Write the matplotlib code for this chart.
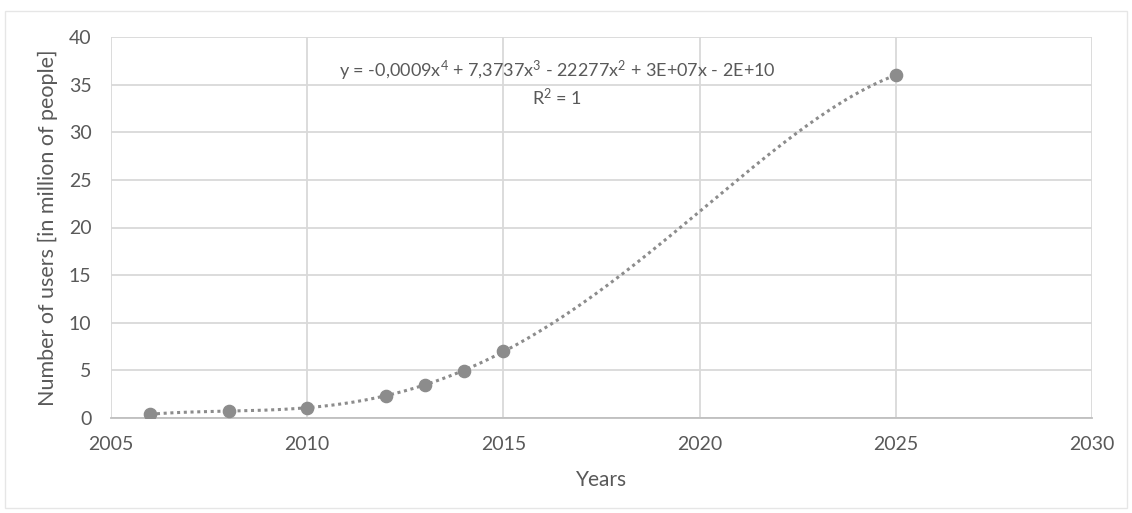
import numpy as np
import matplotlib
matplotlib.use("Agg")
import matplotlib.pyplot as plt
from matplotlib.patches import Rectangle

years = [2006, 2008, 2010, 2012, 2013, 2014, 2015, 2025]
users = [0.4, 0.7, 1.1, 2.35, 3.5, 4.95, 7.0, 36.0]
x_ticks = [2005, 2010, 2015, 2020, 2025, 2030]
y_ticks = [0, 5, 10, 15, 20, 25, 30, 35, 40]
equation = "y = -0,0009x$^4$ + 7,3737x$^3$ - 22277x$^2$ + 3E+07x - 2E+10"
r2_text = "R$^2$ = 1"

plt.rcParams['font.family'] = ['Lato', 'DejaVu Sans']
plt.rcParams['mathtext.fontset'] = 'custom'
plt.rcParams['mathtext.rm'] = 'Lato'
plt.rcParams['mathtext.it'] = 'Lato'
plt.rcParams['mathtext.default'] = 'regular'

text_col = '#595959'
grid_col = '#d9d9d9'
pt_col = '#8c8c8c'

fig = plt.figure(figsize=(11.32, 5.13), dpi=100)
ax = fig.add_axes([111/1132, 1 - 418/513, (1092-111)/1132, (418-37)/513])

# chart area border
fig.patches.append(Rectangle((5/1132, 1 - 508/513), 1122/1132, 497/513,
                             transform=fig.transFigure, fill=False,
                             edgecolor='#e6e6e6', lw=1))

xa = np.array(years, dtype=float)
ya = np.array(users, dtype=float)
xc = xa - 2015.0
coef = np.polyfit(xc, ya, 4)
xs = np.linspace(xa.min(), xa.max(), 400)
ys = np.polyval(coef, xs - 2015.0)
ax.plot(xs, ys, color=pt_col, lw=2.2, linestyle=(0, (1, 1.2)), zorder=3)
ax.plot(xa, ya, 'o', color=pt_col, markersize=8.8, zorder=4)

ax.set_xlim(2005, 2030)
ax.set_ylim(0, 40)
ax.set_xticks(x_ticks)
ax.set_yticks(y_ticks)
ax.grid(True, color=grid_col, lw=1.3)
ax.set_axisbelow(True)
for s in ['top', 'right', 'left']:
    ax.spines[s].set_visible(False)
ax.spines['bottom'].set_color('#bfbfbf')
ax.spines['bottom'].set_linewidth(1.3)
ax.tick_params(length=0, labelsize=14, labelcolor=text_col)
ax.tick_params(axis='x', pad=13)
ax.tick_params(axis='y', pad=14)

ax.set_xlabel("Years", fontsize=15, color=text_col, labelpad=12)
ax.set_ylabel("Number of users [in million of people]", fontsize=15.5,
              color=text_col, labelpad=8)

ax.text(557/1132, 1 - 71/513, equation, transform=fig.transFigure,
        ha='center', va='center', fontsize=13, color=text_col)
ax.text(557/1132, 1 - 97/513, r2_text, transform=fig.transFigure,
        ha='center', va='center', fontsize=13, color=text_col)

fig.savefig("out.png", dpi=100, facecolor='white')
